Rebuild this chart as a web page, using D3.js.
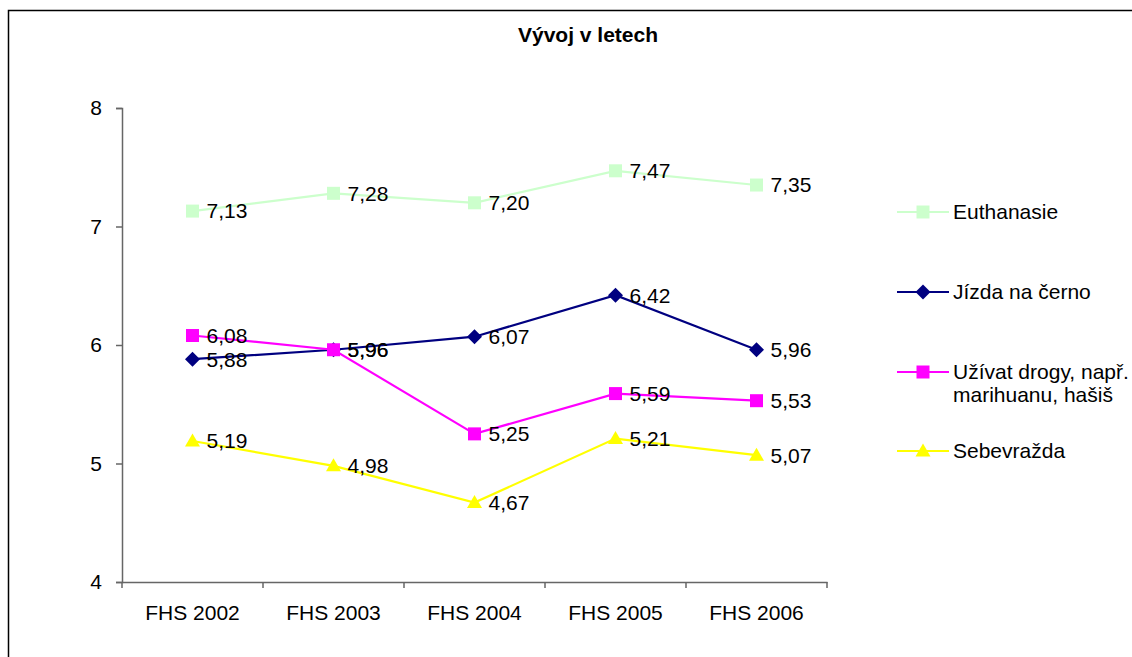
<!DOCTYPE html>
<html>
<head>
<meta charset="utf-8">
<script src="https://cdn.jsdelivr.net/npm/d3@7"></script>
<style>
  body { margin: 0; background: #fff; }
  text { font-family: "Liberation Sans", Arial, sans-serif; fill: #000; }
</style>
</head>
<body>
<svg id="chart" width="1132" height="657"></svg>
<script>
// data
var categories = ["FHS 2002", "FHS 2003", "FHS 2004", "FHS 2005", "FHS 2006"];
var euthanasie = [7.13, 7.28, 7.20, 7.47, 7.35];
var jizda = [5.88, 5.96, 6.07, 6.42, 5.96];
var drogy = [6.08, 5.96, 5.25, 5.59, 5.53];
var sebevrazda = [5.19, 4.98, 4.67, 5.21, 5.07];
var yTicks = [4, 5, 6, 7, 8];

var series = [
  { name: ["Euthanasie"], values: euthanasie, color: "#CCFFCC", marker: "square" },
  { name: ["Jízda na černo"], values: jizda, color: "#000080", marker: "diamond" },
  { name: ["Užívat drogy, např.", "marihuanu, hašiš"], values: drogy, color: "#FF00FF", marker: "square" },
  { name: ["Sebevražda"], values: sebevrazda, color: "#FFFF00", marker: "triangle" }
];

var fs = "21px";
var svg = d3.select("#chart");

// frame (only top and left edges visible)
svg.append("path")
  .attr("d", "M8.5,1000V10.5H1200")
  .attr("fill", "none")
  .attr("stroke", "#000")
  .attr("stroke-width", 1.5);

svg.append("text")
  .attr("x", 588).attr("y", 42)
  .attr("text-anchor", "middle")
  .style("font-size", fs)
  .style("font-weight", "bold")
  .text("Vývoj v letech");

var x = d3.scaleBand().domain(categories).range([122, 827]);
var y = d3.scaleLinear().domain([4, 8]).range([582, 108]);

var g = svg.append("g");

var yAxis = g.append("g")
  .attr("transform", "translate(122,0)")
  .call(d3.axisLeft(y).tickValues(yTicks).tickSize(6).tickPadding(14).tickFormat(d3.format("d")));
var xAxis = g.append("g")
  .attr("transform", "translate(0,582)")
  .call(d3.axisBottom(x).tickSize(0).tickPadding(19));

// category boundary ticks
xAxis.selectAll(".bound")
  .data(d3.range(categories.length + 1))
  .enter().append("line")
  .attr("x1", function(i) { return 122 + i * x.bandwidth(); })
  .attr("x2", function(i) { return 122 + i * x.bandwidth(); })
  .attr("y1", 0).attr("y2", 6)
  .attr("stroke", "#666").attr("stroke-width", 1.5);

[yAxis, xAxis].forEach(function(a) {
  a.selectAll(".domain").attr("stroke", "#666").attr("stroke-width", 1.5);
  a.selectAll(".tick line").attr("stroke", "#666").attr("stroke-width", 1.5);
  a.selectAll("text").style("font-size", fs).style("font-family", "Liberation Sans, Arial, sans-serif").attr("fill", "#000");
});
xAxis.selectAll(".tick text").attr("dy", "0.9em");

function markerPath(type, size) {
  var h = size / 2;
  if (type === "square") return "M" + (-h) + "," + (-h) + "h" + size + "v" + size + "h" + (-size) + "Z";
  if (type === "diamond") return "M0," + (-h - 1) + "L" + (h + 1) + ",0L0," + (h + 1) + "L" + (-h - 1) + ",0Z";
  return "M0," + (-h - 1) + "L" + (h + 1) + "," + (h - 1) + "L" + (-h - 1) + "," + (h - 1) + "Z";
}

var line = d3.line()
  .x(function(d, i) { return x(categories[i]) + x.bandwidth() / 2; })
  .y(function(d) { return y(d); });

var fmt = function(v) { return d3.format(".2f")(v).replace(".", ","); };

series.forEach(function(s) {
  var sg = svg.append("g");
  sg.append("path")
    .datum(s.values)
    .attr("d", line)
    .attr("fill", "none")
    .attr("stroke", s.color)
    .attr("stroke-width", 2.2);
  sg.selectAll(".mk")
    .data(s.values)
    .enter().append("path")
    .attr("transform", function(d, i) { return "translate(" + (x(categories[i]) + x.bandwidth() / 2) + "," + y(d) + ")"; })
    .attr("d", markerPath(s.marker, 13))
    .attr("fill", s.color);
});

series.forEach(function(s) {
  svg.append("g").selectAll("text")
    .data(s.values)
    .enter().append("text")
    .attr("x", function(d, i) { return x(categories[i]) + x.bandwidth() / 2 + 14; })
    .attr("y", function(d) { return y(d); })
    .attr("dy", "0.35em")
    .style("font-size", fs)
    .text(fmt);
});

// legend
var legendY = [212, 292, 372, 451];
var legend = svg.append("g");
series.forEach(function(s, k) {
  var lg = legend.append("g").attr("transform", "translate(897," + legendY[k] + ")");
  lg.append("line").attr("x1", 0).attr("x2", 52).attr("stroke", s.color).attr("stroke-width", 2.2);
  lg.append("path").attr("transform", "translate(26,0)").attr("d", markerPath(s.marker, 13)).attr("fill", s.color);
  s.name.forEach(function(t, j) {
    lg.append("text")
      .attr("x", 56).attr("y", j * 23)
      .attr("dy", "0.35em")
      .style("font-size", fs)
      .text(t);
  });
});
</script>
</body>
</html>
